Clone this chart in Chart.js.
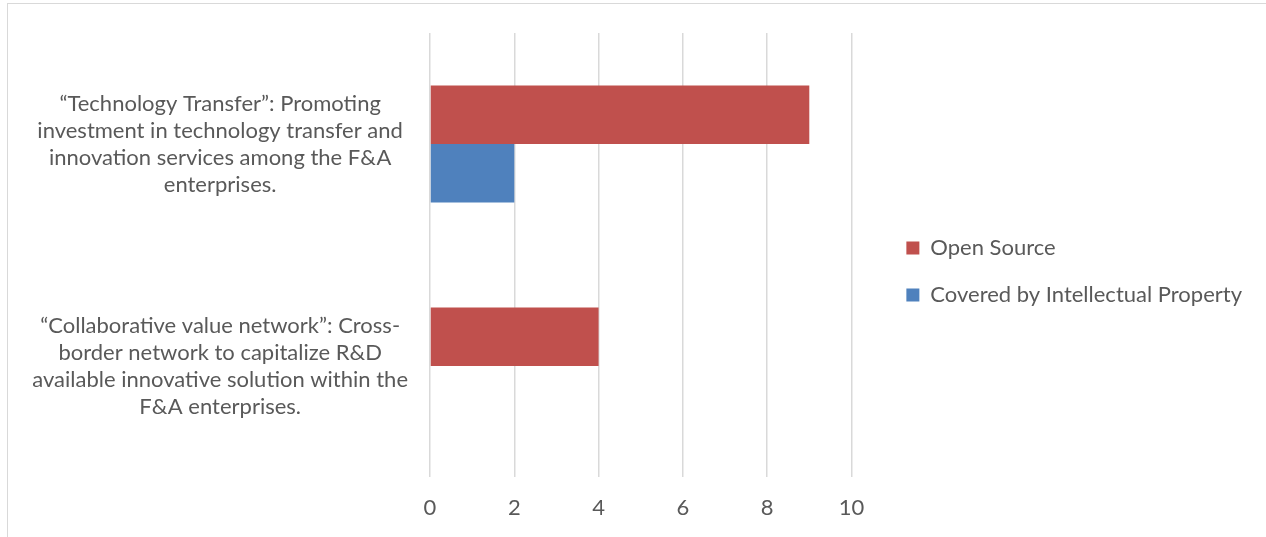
<!DOCTYPE html>
<html>
<head>
<meta charset="utf-8">
<script src="https://cdn.jsdelivr.net/npm/chart.js@4.4.1/dist/chart.umd.min.js"></script>
<style>
  html, body { margin: 0; padding: 0; background: #fff; overflow: hidden; }
  #box { position: absolute; left: 7px; top: 3px; width: 1320px; height: 600px; border: 1px solid #d9d9d9; }
  #chart { position: absolute; left: 0; top: 0; }
</style>
</head>
<body>
<div id="box"><canvas id="chart" width="1244" height="536"></canvas></div>
<script>
  // categories (one label per bar group, split into lines)
  var categories = [
    ['\u201CTechnology Transfer\u201D: Promoting', 'investment in technology transfer and', 'innovation services among the F&A', 'enterprises.'],
    ['\u201CCollaborative value network\u201D: Cross-', 'border network to capitalize R&D', 'available innovative solution within the', 'F&A enterprises.']
  ]
  var openSource = [9, 4]
  var coveredByIP = [2, 0]
  var xTicks = [0, 2, 4, 6, 8, 10]

  var txt = '#595959'
  var fontFamily = 'Lato, "Open Sans", sans-serif'

  Chart.defaults.font.family = fontFamily
  Chart.defaults.color = txt

  const ctx = document.getElementById('chart').getContext('2d')
  const myChart = new Chart(ctx, {
    type: 'bar',
    data: {
      labels: categories,
      datasets: [{
        label: 'Open Source',
        data: openSource,
        backgroundColor: '#C0504D',
        borderWidth: 0
      }, {
        label: 'Covered by Intellectual Property',
        data: coveredByIP,
        backgroundColor: '#4F81BD',
        borderWidth: 0
      }]
    },
    options: {
      indexAxis: 'y',
      responsive: false,
      animation: false,
      barPercentage: 1,
      categoryPercentage: 0.527,
      layout: { padding: { top: 17, bottom: 18, left: 0, right: 0 } },
      plugins: {
        tooltip: { enabled: false },
        legend: {
          position: 'right',
          maxWidth: 500,
          labels: {
            boxWidth: 13,
            boxHeight: 13,
            padding: 25,
            color: txt,
            font: { size: 22 }
          }
        }
      },
      scales: {
        x: {
          min: 0,
          max: 10.71,
          grid: { color: '#d9d9d9', lineWidth: 1.5, drawTicks: false },
          border: { display: false },
          ticks: { stepSize: 2, padding: 18, color: txt, font: { size: 22 } },
          afterBuildTicks: function(axis) {
            axis.ticks = xTicks.map(function(v) { return { value: v } })
          },
          afterFit: function(axis) { axis.height = 45 }
        },
        y: {
          grid: { display: false },
          border: { display: false },
          ticks: { crossAlign: 'center', padding: 14, color: txt, font: { size: 22, lineHeight: 1.23 } },
          afterFit: function(axis) {
            axis.width = 422
            axis.paddingTop = 29
            axis.paddingBottom = 0
          }
        }
      }
    }
  })
</script>
</body>
</html>
